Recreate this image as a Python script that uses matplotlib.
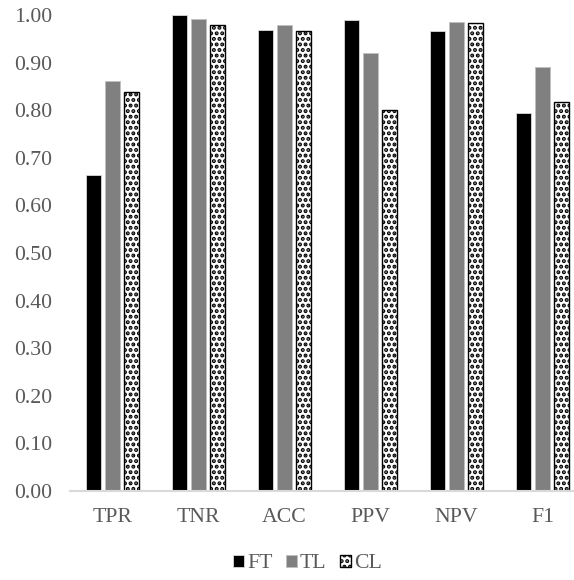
import matplotlib
matplotlib.use("Agg")
import matplotlib.pyplot as plt
import numpy as np

plt.rcParams['font.family'] = ['Liberation Serif', 'DejaVu Serif']
plt.rcParams['hatch.linewidth'] = 2.0

categories = ["TPR", "TNR", "ACC", "PPV", "NPV", "F1"]
ft = [0.664, 1.000, 0.968, 0.989, 0.966, 0.795]
tl = [0.861, 0.992, 0.980, 0.920, 0.985, 0.890]
cl = [0.838, 0.978, 0.966, 0.800, 0.983, 0.817]
yticks = [0.0, 0.1, 0.2, 0.3, 0.4, 0.5, 0.6, 0.7, 0.8, 0.9, 1.0]

W, H = 574, 580
fig = plt.figure(figsize=(W / 100, H / 100), dpi=100)
left, right = 69.5, 585.5
bottom, top = 491, 15
ax = fig.add_axes([left / W, 1 - bottom / H, (right - left) / W, (bottom - top) / H])

x = np.arange(len(categories))
bw = 15 / 86
off = 19 / 86
ax.bar(x - off, ft, width=bw, color='black', edgecolor='#d9d9d9', linewidth=0.6, label='FT')
ax.bar(x, tl, width=bw, color='#808080', edgecolor='#bfbfbf', linewidth=0.6, label='TL')
ax.bar(x + off, cl, width=bw, color='white', edgecolor='black', hatch='...', linewidth=1.0, label='CL')

ax.set_xlim(-0.5, len(categories) - 0.5)
ax.set_ylim(0, 1.0)
ax.set_yticks(yticks)
ax.set_yticklabels([f"{v:.2f}" for v in yticks])
ax.set_xticks(x)
ax.set_xticklabels(categories)
ax.tick_params(axis='y', length=0, pad=12.5, labelsize=15.7, labelcolor='#595959')
ax.tick_params(axis='x', length=0, pad=12, labelsize=15.7, labelcolor='#595959')
for s in ['top', 'right', 'left']:
    ax.spines[s].set_visible(False)
ax.spines['bottom'].set_color('#d9d9d9')
ax.spines['bottom'].set_linewidth(1.5)
ax.patch.set_visible(False)

leg = fig.legend(loc='center', bbox_to_anchor=(307.5 / W, 1 - 564 / H), ncol=3, frameon=False,
                 fontsize=15.7, handlelength=0.48, handleheight=0.48, handletextpad=0.14,
                 columnspacing=0.64, labelcolor='#595959', borderpad=0, borderaxespad=0)

fig.savefig('out.png', dpi=100)
